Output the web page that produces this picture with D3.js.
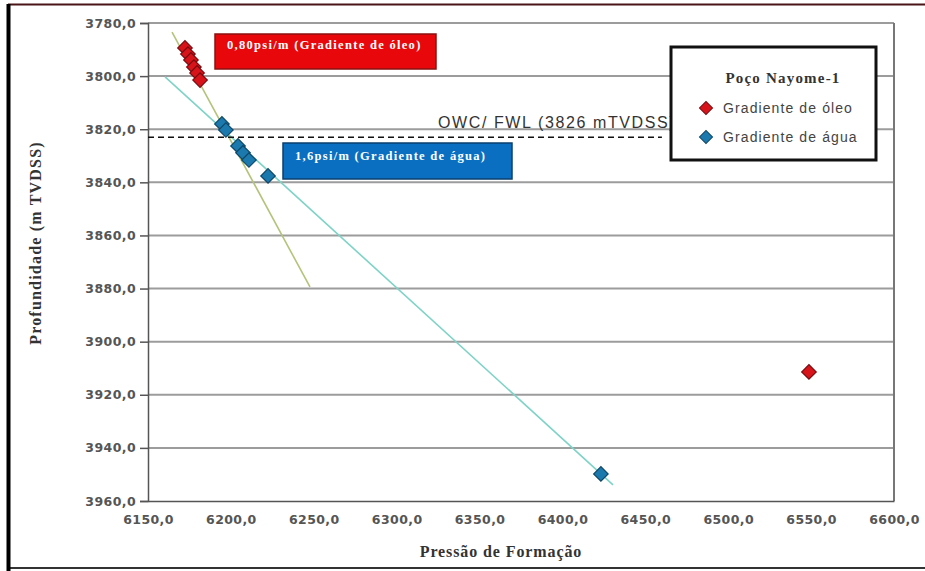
<!DOCTYPE html>
<html>
<head>
<meta charset="utf-8">
<script src="https://cdn.jsdelivr.net/npm/d3@7"></script>
<style>
  html, body { margin: 0; padding: 0; background: #fff; }
  svg { display: block; }
</style>
</head>
<body>
<svg id="chart" width="925" height="571"></svg>
<script>
// Formation pressure vs. depth (Poço Nayome-1)
const xTicks = [6150, 6200, 6250, 6300, 6350, 6400, 6450, 6500, 6550, 6600];
const yTicks = [3780, 3800, 3820, 3840, 3860, 3880, 3900, 3920, 3940, 3960];

// Pressure readings [pressure, depth]
const oilPressure = [6172.3, 6174.1, 6175.9, 6177.7, 6179.6, 6181.4, 6548.7];
const oilDepth    = [3789.4, 3791.7, 3793.9, 3796.6, 3798.8, 3801.5, 3911.4];
const waterPressure = [6194.6, 6197.0, 6204.3, 6207.3, 6210.9, 6222.4, 6423.2];
const waterDepth    = [3818.0, 3820.3, 3826.3, 3828.9, 3831.6, 3837.6, 3949.8];

// Fitted gradient lines (end points)
const oilLinePressure = [6164.5, 6247.7];
const oilLineDepth    = [3783.4, 3879.4];
const waterLinePressure = [6160.3, 6430.5];
const waterLineDepth    = [3800.3, 3953.9];

// Fluid contact depth as drawn
const contactDepth = 3823;
const contactEndPressure = 6460;

const svg = d3.select("#chart");
const plotLeft = 148, plotRight = 894, plotTop = 23, plotBottom = 501;

const x = d3.scaleLinear().domain([6150, 6600]).range([plotLeft, plotRight]);
const y = d3.scaleLinear().domain([3780, 3960]).range([plotTop, plotBottom]);
const fmt = v => d3.format(".1f")(v).replace(".", ",");

// outer frame
svg.append("line").attr("x1", 8).attr("x2", 925).attr("y1", 4.5).attr("y2", 4.5)
  .attr("stroke", "#4a1518").attr("stroke-width", 2);
svg.append("line").attr("x1", 8).attr("x2", 925).attr("y1", 568).attr("y2", 568)
  .attr("stroke", "#333").attr("stroke-width", 2);
svg.append("line").attr("x1", 8.5).attr("x2", 8.5).attr("y1", 4).attr("y2", 571)
  .attr("stroke", "#000").attr("stroke-width", 4);

// horizontal gridlines
svg.append("g").selectAll("line").data(yTicks.slice(0, -1)).join("line")
  .attr("x1", plotLeft).attr("x2", plotRight)
  .attr("y1", d => y(d)).attr("y2", d => y(d))
  .attr("stroke", "#9c9c9c").attr("stroke-width", 2);

// plot frame (right side)
svg.append("line").attr("x1", plotRight).attr("x2", plotRight).attr("y1", plotTop).attr("y2", plotBottom)
  .attr("stroke", "#777").attr("stroke-width", 2);

// y axis
const yAxis = d3.axisLeft(y).tickValues(yTicks).tickFormat(fmt).tickSize(8).tickPadding(4);
const gy = svg.append("g").attr("transform", `translate(${plotLeft},0)`).call(yAxis);
gy.select(".domain").attr("stroke", "#555").attr("stroke-width", 1.5);
gy.selectAll(".tick line").attr("stroke", "#555").attr("stroke-width", 1.5);
gy.selectAll("text").attr("font-family", "Verdana, 'DejaVu Sans', sans-serif")
  .attr("font-size", 12.5).attr("font-weight", "bold").attr("fill", "#555")
  .attr("letter-spacing", 0.4);

// x axis
const xAxis = d3.axisBottom(x).tickValues(xTicks).tickFormat(fmt).tickSize(0).tickPadding(14);
const gx = svg.append("g").attr("transform", `translate(0,${plotBottom})`).call(xAxis);
gx.select(".domain").attr("stroke", "#555").attr("stroke-width", 1.5);
gx.selectAll("text").attr("font-family", "Verdana, 'DejaVu Sans', sans-serif")
  .attr("font-size", 12.5).attr("font-weight", "bold").attr("fill", "#555")
  .attr("letter-spacing", 0.4);

// axis titles
svg.append("text")
  .attr("transform", "translate(41,243) rotate(-90)")
  .attr("text-anchor", "middle")
  .attr("font-family", "'Liberation Serif', 'Times New Roman', serif")
  .attr("font-weight", "bold").attr("font-size", 16).attr("fill", "#333")
  .attr("letter-spacing", 1.2)
  .text("Profundidade (m TVDSS)");
svg.append("text")
  .attr("x", 501).attr("y", 557)
  .attr("text-anchor", "middle")
  .attr("font-family", "'Liberation Serif', 'Times New Roman', serif")
  .attr("font-weight", "bold").attr("font-size", 16).attr("fill", "#333")
  .attr("letter-spacing", 0.9)
  .text("Pressão de Formação");

// gradient lines
const line = d3.line().x(d => x(d[0])).y(d => y(d[1]));
svg.append("path")
  .attr("d", line(d3.zip(oilLinePressure, oilLineDepth)))
  .attr("stroke", "#b3c47a").attr("stroke-width", 1.6).attr("fill", "none");
svg.append("path")
  .attr("d", line(d3.zip(waterLinePressure, waterLineDepth)))
  .attr("stroke", "#7dd3c6").attr("stroke-width", 1.6).attr("fill", "none");

// contact
svg.append("line")
  .attr("x1", x(6150)).attr("x2", x(contactEndPressure))
  .attr("y1", y(contactDepth)).attr("y2", y(contactDepth))
  .attr("stroke", "#111").attr("stroke-width", 1.5).attr("stroke-dasharray", "6,4");

// markers
const diamond = d3.symbol().type(d3.symbolSquare).size(105);
function drawPoints(px, py, fill, stroke) {
  svg.append("g").selectAll("path").data(d3.zip(px, py)).join("path")
    .attr("d", diamond)
    .attr("transform", d => `translate(${x(d[0])},${y(d[1])}) rotate(45)`)
    .attr("fill", fill).attr("stroke", stroke).attr("stroke-width", 1.2);
}
drawPoints(waterPressure, waterDepth, "#1b79ad", "#0e4768");
drawPoints(oilPressure, oilDepth, "#d8141b", "#7a0a0e");

// gradient annotation boxes
function labelBox(x0, y0, w, h, fill, stroke, txt, ty) {
  svg.append("rect").attr("x", x0).attr("y", y0).attr("width", w).attr("height", h)
    .attr("fill", fill).attr("stroke", stroke).attr("stroke-width", 1.5);
  svg.append("text").attr("x", x0 + 12).attr("y", y0 + ty)
    .attr("font-family", "'Liberation Serif', 'Times New Roman', serif")
    .attr("font-weight", "bold").attr("font-size", 12.5).attr("fill", "#fff")
    .attr("letter-spacing", 1.3)
    .text(txt);
}
labelBox(215, 34, 221, 35, "#e8080c", "#8a1010", "0,80psi/m  (Gradiente de óleo)", 15);
labelBox(283, 143, 229, 36, "#0a6fc0", "#0a3f6e", "1,6psi/m (Gradiente de água)", 17);

// contact label (tail runs under the legend box)
svg.append("text").attr("x", 438).attr("y", 128)
  .attr("font-family", "'Liberation Sans', Arial, sans-serif")
  .attr("font-size", 16).attr("fill", "#333").attr("letter-spacing", 1.6)
  .text("OWC/ FWL (3826 mTVDSS)");

// legend
const lg = svg.append("g");
lg.append("rect").attr("x", 671).attr("y", 47).attr("width", 205).attr("height", 113)
  .attr("fill", "#fff").attr("stroke", "#111").attr("stroke-width", 3);
lg.append("text").attr("x", 783).attr("y", 83).attr("text-anchor", "middle")
  .attr("font-family", "'Liberation Serif', 'Times New Roman', serif")
  .attr("font-weight", "bold").attr("font-size", 15).attr("fill", "#333")
  .attr("letter-spacing", 1.2)
  .text("Poço Nayome-1");
const legendItems = ["Gradiente de óleo", "Gradiente de água"];
const legendFill = ["#d8141b", "#1b79ad"];
const legendStroke = ["#7a0a0e", "#0e4768"];
legendItems.forEach((t, i) => {
  const cy = 108 + i * 29;
  lg.append("path").attr("d", d3.symbol().type(d3.symbolSquare).size(85)())
    .attr("transform", `translate(706,${cy}) rotate(45)`)
    .attr("fill", legendFill[i]).attr("stroke", legendStroke[i]).attr("stroke-width", 1);
  lg.append("text").attr("x", 723).attr("y", cy + 5)
    .attr("font-family", "'Liberation Sans', Arial, sans-serif")
    .attr("font-size", 14).attr("fill", "#444").attr("letter-spacing", 1.1)
    .text(t);
});
</script>
</body>
</html>
